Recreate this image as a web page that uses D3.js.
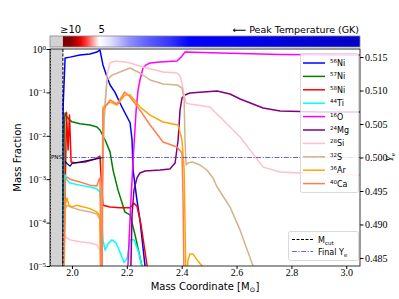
<!DOCTYPE html>
<html>
<head>
<meta charset="utf-8">
<script src="https://cdn.jsdelivr.net/npm/d3@7"></script>
<style>
	body { margin: 0; background: #fff; }
	svg { display: block; font-family: "DejaVu Sans", sans-serif; }
	.axis text { font-family: "Liberation Serif", serif; font-size: 10px; fill: #000; }
	.axis line { stroke: #000; }
	.axis path { display: none; }
</style>
</head>
<body>
<div id="chart"></div>
<script>
// Mass coordinate [Msun] / mass fraction pairs
var ni56 = [[1.967,1e-6],[1.968,0.05],[1.975,0.62],[1.993,0.65],[2.029,0.73],[2.066,0.77],[2.091,0.85],[2.102,0.95],[2.113,0.43],[2.128,0.226],[2.139,0.148],[2.157,0.10],[2.175,0.057],[2.193,0.034],[2.212,0.020],[2.219,0.008],[2.223,0.0016],[2.237,3.3e-4],[2.248,1.15e-4],[2.266,1.05e-5],[2.274,3e-6]];
var ni57 = [[1.967,1e-6],[1.972,0.02],[1.975,0.0335],[1.982,0.027],[1.993,0.023],[2.0,0.021],[2.029,0.019],[2.066,0.0177],[2.091,0.016],[2.102,0.0136],[2.121,0.008],[2.139,0.0042],[2.150,0.0016],[2.168,5.6e-4],[2.193,1.75e-4],[2.212,1.5e-4],[2.230,5.2e-5],[2.255,1e-5],[2.262,3e-6]];
var ni58 = [[1.967,1e-6],[1.975,3.3e-4],[1.980,0.035],[1.986,0.0047],[1.991,0.030],[1.997,0.0025],[2.011,0.0024],[2.048,0.0025],[2.084,0.0029],[2.102,0.0034],[2.106,0.00125],[2.113,2.5e-4],[2.139,2.3e-4],[2.175,2.2e-4],[2.212,2.2e-4],[2.226,2.8e-4],[2.237,2.4e-4],[2.252,8.8e-5],[2.274,1e-5],[2.281,3e-6]];
var ti44 = [[1.967,1e-6],[1.975,0.00125],[1.982,9.6e-4],[1.993,8.2e-4],[2.029,7.3e-4],[2.066,6.6e-4],[2.091,6.0e-4],[2.102,5.1e-4],[2.106,3.3e-4],[2.113,4e-5],[2.121,2.3e-5],[2.131,3.2e-5],[2.146,4e-5],[2.161,3.4e-5],[2.175,2.1e-5],[2.190,1.2e-5],[2.201,1.5e-5],[2.212,4e-5],[2.226,4e-5],[2.241,2.3e-5],[2.255,1e-5],[2.259,3e-6]];
var o16 = [[2.201,1e-6],[2.204,1e-5],[2.215,3.3e-4],[2.223,0.0028],[2.234,0.039],[2.241,0.114],[2.248,0.193],[2.259,0.365],[2.270,0.43],[2.285,0.475],[2.321,0.50],[2.383,0.53],[2.398,0.65],[2.412,0.85],[2.540,0.81],[2.759,0.75],[3.05,0.73]];
var mg24 = [[2.212,1e-6],[2.215,1e-5],[2.219,1.5e-4],[2.226,5.6e-4],[2.237,0.00107],[2.248,0.00139],[2.266,0.00155],[2.321,0.00163],[2.357,0.00172],[2.376,0.00236],[2.387,0.008],[2.394,0.039],[2.401,0.074],[2.412,0.087],[2.430,0.097],[2.529,0.108],[2.576,0.092],[2.613,0.0705],[2.697,0.0437],[2.759,0.0373],[2.904,0.0353],[3.05,0.0353]];
var si28 = [[1.967,1e-6],[1.975,5.2e-5],[1.982,4.4e-5],[1.993,4e-5],[2.029,3.6e-5],[2.066,3.4e-5],[2.091,3.05e-5],[2.102,2.3e-5],[2.106,3e-6],[2.113,0.0047],[2.121,0.067],[2.128,0.25],[2.139,0.475],[2.157,0.53],[2.193,0.50],[2.212,0.475],[2.259,0.385],[2.332,0.295],[2.383,0.28],[2.394,0.24],[2.401,0.165],[2.409,0.087],[2.416,0.057],[2.430,0.054],[2.503,0.046],[2.613,0.0094],[2.697,0.0019],[2.759,0.00147],[2.904,0.00131],[3.05,0.00125]];
var s32 = [[1.967,1e-6],[1.975,1.95e-4],[1.982,2.5e-4],[1.993,2.3e-4],[2.029,1.95e-4],[2.066,1.75e-4],[2.091,1.58e-4],[2.102,1.15e-4],[2.106,3e-6],[2.110,3.3e-4],[2.117,0.023],[2.128,0.193],[2.146,0.25],[2.175,0.295],[2.212,0.365],[2.248,0.28],[2.285,0.193],[2.332,0.156],[2.383,0.148],[2.401,0.126],[2.409,0.067],[2.412,0.008],[2.416,0.00212],[2.423,0.00236],[2.438,0.0025],[2.467,0.00212],[2.492,0.00163],[2.514,0.00107],[2.529,6.6e-4],[2.576,2.3e-4],[2.613,6.7e-5],[2.660,1e-5],[2.671,3e-6]];
var ar36 = [[1.967,1e-6],[1.975,2.5e-4],[1.982,3.7e-4],[1.989,2.5e-4],[2.0,2.3e-4],[2.018,2.5e-4],[2.066,2.1e-4],[2.091,1.75e-4],[2.102,1.4e-4],[2.106,3e-6],[2.110,3.3e-4],[2.113,0.046],[2.139,0.06],[2.164,0.051],[2.193,0.087],[2.212,0.087],[2.248,0.046],[2.285,0.030],[2.332,0.0208],[2.387,0.0177],[2.401,0.008],[2.409,0.00163],[2.412,1.15e-4],[2.416,3e-6],[2.423,1.37e-5],[2.430,1.9e-5],[2.441,1.9e-5],[2.452,1.5e-5],[2.474,1e-5],[2.481,3e-6]];
var ca40 = [[1.967,1e-6],[1.975,9.6e-4],[1.982,0.00112],[1.993,0.001],[2.029,8.6e-4],[2.066,7.3e-4],[2.091,7.0e-4],[2.098,9.6e-4],[2.102,0.00107],[2.106,1e-5],[2.110,3e-6],[2.113,0.039],[2.139,0.067],[2.164,0.054],[2.193,0.102],[2.212,0.078],[2.248,0.039],[2.285,0.0177],[2.332,0.0072],[2.383,0.0055],[2.401,0.004],[2.405,3.3e-4],[2.409,3e-6]];

// electron fraction profile (right axis)
var yeMass = [1.975, 1.982, 1.993, 2.0, 2.029, 2.066, 2.102, 2.113];
var yeValue = [0.4994, 0.4991, 0.4987, 0.4991, 0.4993, 0.4996, 0.4999, 0.5];
var finalYe = 0.5;
var massCut = 1.967;

// peak temperature strip (GK)
var peakMass = [1.967, 1.99, 2.01, 2.03, 2.05, 2.07, 2.10, 2.14, 2.21, 2.28, 2.36, 2.43, 2.6, 2.8, 3.05];
var peakTemp = [10, 10, 9.2, 8.0, 7.0, 6.2, 5.0, 4.7, 3.9, 3.4, 3.0, 2.5, 2.3, 2.0, 1.75];
var tempTickLabels = ['\u226510', '5'];
var tempTickMass = [1.995, 2.108];

// ticks
var xTicks = [2.0, 2.2, 2.4, 2.6, 2.8, 3.0];
var yTicks = [1, 1e-1, 1e-2, 1e-3, 1e-4, 1e-5];
var yeTicks = [0.485, 0.490, 0.495, 0.500, 0.505, 0.510, 0.515];

var series = [
	{ mass: '56', el: 'Ni', color: '#0000ff', data: ni56 },
	{ mass: '57', el: 'Ni', color: '#008000', data: ni57 },
	{ mass: '58', el: 'Ni', color: '#ff0000', data: ni58 },
	{ mass: '44', el: 'Ti', color: '#00ffff', data: ti44 },
	{ mass: '16', el: 'O', color: '#ff00ff', data: o16 },
	{ mass: '24', el: 'Mg', color: '#800080', data: mg24 },
	{ mass: '28', el: 'Si', color: '#ffc0cb', data: si28 },
	{ mass: '32', el: 'S', color: '#d2b48c', data: s32 },
	{ mass: '36', el: 'Ar', color: '#ffa500', data: ar36 },
	{ mass: '40', el: 'Ca', color: '#ff7f50', data: ca40 }
];

var W = 399, H = 299,
	margin = { top: 49, right: 39, bottom: 33, left: 50 },
	pw = W - margin.left - margin.right,
	ph = H - margin.top - margin.bottom;

var yeStroke = '#4a4ad6', yeDash = '5,1.5,1.2,1.5';

var svg = d3.select('#chart').append('svg').attr('width', W).attr('height', H);

var x = d3.scaleLinear().domain([1.92, 3.05]).range([margin.left, margin.left + pw]);
var y = d3.scaleLog().domain([1e-5, 1]).range([margin.top + ph, margin.top]);
var yr = d3.scaleLinear().domain([0.4838, 0.5162]).range([margin.top + ph, margin.top]);
var tempColor = d3.scaleLinear().domain([0, 2.5, 5, 7.5, 10])
	.range(['#00004d', '#0000ff', '#ffffff', '#ff0000', '#800000']).clamp(true);

var defs = svg.append('defs');
defs.append('clipPath').attr('id', 'clip').append('rect')
	.attr('x', margin.left).attr('y', margin.top).attr('width', pw).attr('height', ph);

// PNS shaded region
svg.append('rect')
	.attr('x', margin.left).attr('y', margin.top)
	.attr('width', x(massCut) - margin.left).attr('height', ph)
	.attr('fill', '#d3d3d3');
svg.append('line')
	.attr('x1', margin.left + 0.5).attr('x2', margin.left + 0.5)
	.attr('y1', margin.top).attr('y2', margin.top + ph)
	.attr('stroke', '#444').attr('stroke-dasharray', '1.5,1.5');

// peak temperature bar
var grad = defs.append('linearGradient').attr('id', 'tgrad')
	.attr('gradientUnits', 'userSpaceOnUse')
	.attr('x1', x(peakMass[0])).attr('x2', x(peakMass[peakMass.length - 1]))
	.attr('y1', 0).attr('y2', 0);
var span = x(peakMass[peakMass.length - 1]) - x(peakMass[0]);
peakMass.forEach(function(m, i) {
	grad.append('stop')
		.attr('offset', (x(m) - x(peakMass[0])) / span)
		.attr('stop-color', tempColor(peakTemp[i]));
});
var barY = 36, barH = 11;
svg.append('rect').attr('x', margin.left).attr('y', barY)
	.attr('width', x(massCut) - margin.left).attr('height', barH).attr('fill', '#d3d3d3');
svg.append('rect').attr('x', x(massCut)).attr('y', barY)
	.attr('width', margin.left + pw - x(massCut)).attr('height', barH).attr('fill', 'url(#tgrad)');
svg.append('rect').attr('x', margin.left).attr('y', barY)
	.attr('width', pw).attr('height', barH)
	.attr('fill', 'none').attr('stroke', '#888').attr('stroke-width', 0.8);
svg.selectAll('.ttick').data(tempTickLabels).enter().append('text')
	.attr('x', function(d, i) { return x(tempTickMass[i]); })
	.attr('y', 33).attr('text-anchor', 'middle')
	.attr('font-size', 10).text(function(d) { return d; });
svg.append('text').attr('x', margin.left + pw - 1).attr('y', 33)
	.attr('text-anchor', 'end').attr('font-size', 9.5)
	.text('\u27F5 Peak Temperature (GK)');

// abundance curves
var line = d3.line()
	.x(function(d) { return x(d[0]); })
	.y(function(d) { return y(d[1]); });
var gLines = svg.append('g').attr('clip-path', 'url(#clip)');
series.forEach(function(s) {
	gLines.append('path').datum(s.data)
		.attr('d', line).attr('fill', 'none')
		.attr('stroke', s.color).attr('stroke-width', 1.5)
		.attr('stroke-linejoin', 'round');
});

// Ye profile and final Ye
var yeLine = d3.line()
	.x(function(d) { return x(d); })
	.y(function(d, i) { return yr(yeValue[i]); });
gLines.append('path').datum(yeMass).attr('d', yeLine)
	.attr('fill', 'none').attr('stroke', '#000080').attr('stroke-width', 1.2);
gLines.append('line')
	.attr('x1', x(massCut)).attr('x2', margin.left + pw)
	.attr('y1', yr(finalYe)).attr('y2', yr(finalYe))
	.attr('stroke', yeStroke).attr('stroke-opacity', 0.85).attr('stroke-width', 1.2)
	.attr('stroke-dasharray', yeDash);
gLines.append('line')
	.attr('x1', x(massCut)).attr('x2', x(massCut))
	.attr('y1', margin.top).attr('y2', margin.top + ph)
	.attr('stroke', '#000').attr('stroke-width', 1).attr('stroke-dasharray', '3,1.5');
svg.append('text').attr('x', x(massCut) - 1).attr('y', yr(finalYe) + 1.5)
	.attr('text-anchor', 'end').attr('font-size', 5.5).text('PNS');

// frame
svg.append('rect').attr('x', margin.left).attr('y', margin.top)
	.attr('width', pw).attr('height', ph)
	.attr('fill', 'none').attr('stroke', '#000').attr('stroke-width', 0.8);

// axes
svg.append('g').attr('class', 'axis')
	.attr('transform', 'translate(0,' + (margin.top + ph) + ')')
	.call(d3.axisBottom(x).tickValues(xTicks).tickFormat(d3.format('.1f')).tickSize(3).tickPadding(0));

var gy = svg.append('g').attr('class', 'axis')
	.attr('transform', 'translate(' + margin.left + ',0)')
	.call(d3.axisLeft(y).tickValues(yTicks).tickFormat('').tickSize(3.5));
gy.selectAll('.tick').append('text')
	.attr('x', -4).attr('dy', '0.35em').attr('text-anchor', 'end')
	.each(function(d) {
		var t = d3.select(this), p = Math.round(Math.log10(d));
		t.append('tspan').text('10');
		t.append('tspan').attr('dy', '-0.45em').attr('font-size', 7)
			.text(p === 0 ? '0' : '\u2212' + (-p));
	});

svg.append('g').attr('class', 'axis')
	.attr('transform', 'translate(' + (margin.left + pw) + ',0)')
	.call(d3.axisRight(yr).tickValues(yeTicks).tickFormat(d3.format('.3f')).tickSize(3.5).tickPadding(1.5));

// axis labels
svg.append('text').attr('transform', 'translate(21,' + (margin.top + ph / 2) + ') rotate(-90)')
	.attr('text-anchor', 'middle').attr('font-size', 10).text('Mass Fraction');
var xl = svg.append('text').attr('x', margin.left + pw / 2).attr('y', 290)
	.attr('text-anchor', 'middle').attr('font-size', 10);
xl.append('tspan').text('Mass Coordinate [M');
xl.append('tspan').attr('dy', 2).attr('font-size', 7).text('\u2299');
xl.append('tspan').attr('dy', -2).text(']');
var yel = svg.append('text').attr('transform', 'translate(393,' + yr(finalYe) + ') rotate(-90)')
	.attr('text-anchor', 'middle').attr('font-family', 'Liberation Serif, serif').attr('font-size', 11);
yel.append('tspan').attr('font-style', 'italic').text('Y');
yel.append('tspan').attr('dy', 2).attr('font-size', 7).text('e');

// isotope legend
var lg = svg.append('g');
lg.append('rect').attr('x', 300.5).attr('y', 53.5).attr('width', 58).attr('height', 139)
	.attr('rx', 2).attr('fill', '#fff').attr('fill-opacity', 0.8)
	.attr('stroke', '#d0d0d0').attr('stroke-width', 0.8);
series.forEach(function(s, i) {
	var ly = 63 + i * 13.4;
	lg.append('line').attr('x1', 303).attr('x2', 325).attr('y1', ly).attr('y2', ly)
		.attr('stroke', s.color).attr('stroke-width', 1.5);
	var t = lg.append('text').attr('x', 330).attr('y', ly + 3).attr('font-size', 8);
	t.append('tspan').attr('dy', -3).attr('font-size', 5.5).text(s.mass);
	t.append('tspan').attr('dy', 3).text(s.el);
});

// Mcut / final Ye legend
var lg2 = svg.append('g');
lg2.append('rect').attr('x', 288.5).attr('y', 231.5).attr('width', 70).attr('height', 29)
	.attr('rx', 2).attr('fill', '#fff').attr('fill-opacity', 0.8)
	.attr('stroke', '#d0d0d0').attr('stroke-width', 0.8);
lg2.append('line').attr('x1', 292).attr('x2', 313).attr('y1', 239.5).attr('y2', 239.5)
	.attr('stroke', '#000').attr('stroke-width', 1).attr('stroke-dasharray', '3,1.5');
lg2.append('line').attr('x1', 292).attr('x2', 313).attr('y1', 251.5).attr('y2', 251.5)
	.attr('stroke', yeStroke).attr('stroke-opacity', 0.85).attr('stroke-width', 1.2)
	.attr('stroke-dasharray', yeDash);
var t1 = lg2.append('text').attr('x', 318).attr('y', 242.5).attr('font-size', 8);
t1.append('tspan').text('M');
t1.append('tspan').attr('dy', 2).attr('font-size', 5.5).text('cut');
var t2 = lg2.append('text').attr('x', 318).attr('y', 254.5).attr('font-size', 8);
t2.append('tspan').text('Final Y');
t2.append('tspan').attr('dy', 2).attr('font-size', 5.5).text('e');
</script>
</body>
</html>
